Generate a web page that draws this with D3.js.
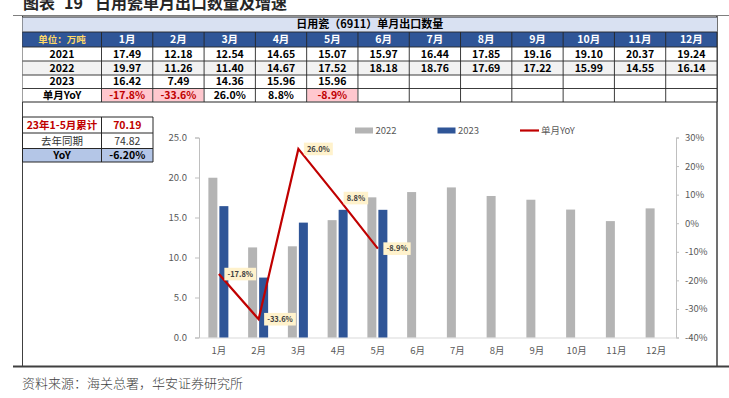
<!DOCTYPE html>
<html><head><meta charset="utf-8">
<script src="https://cdn.jsdelivr.net/npm/d3@7"></script>
<style>
html,body{margin:0;padding:0;background:#fff;}
svg{display:block;font-family:"Noto Sans CJK SC","Noto Sans",sans-serif;}
</style></head>
<body><svg id="c" width="729" height="398"></svg>
<script>
// ---- data ----
const months = ["1月","2月","3月","4月","5月","6月","7月","8月","9月","10月","11月","12月"];
const years = ["2021","2022","2023"];
const v2021 = [17.49,12.18,12.54,14.65,15.07,15.97,16.44,17.85,19.16,19.10,20.37,19.24];
const v2022 = [19.97,11.26,11.40,14.67,17.52,18.18,18.76,17.69,17.22,15.99,14.55,16.14];
const v2023 = [16.42,7.49,14.36,15.96,15.96];
const yoy = [-17.8,-33.6,26.0,8.8,-8.9];
const leftTicks = [0,5,10,15,20,25];
const rightTicks = [-40,-30,-20,-10,0,10,20,30];
const summaryLabels = ["23年1-5月累计","去年同期","YoY"];
const summaryValues = ["70.19","74.82","-6.20%"];
const titleParts = ["图表","19","日用瓷单月出口数量及增速"];
const tableTitle = "日用瓷（6911）单月出口数量";
const unitLabel = "单位：万吨";
const yoyLabel = "单月YoY";
const sourceText = "资料来源：海关总署，华安证券研究所";

const svg = d3.select("#c");

// ---- title & frame ----
const tt = svg.append("text").attr("x",23).attr("y",9).attr("font-size",16).attr("font-weight",700)
  .attr("fill","#262626");
tt.append("tspan").text(titleParts[0]);
tt.append("tspan").attr("dx",9).text(titleParts[1]);
tt.append("tspan").attr("dx",12).text(titleParts[2]);
svg.append("line").attr("x1",13).attr("x2",729).attr("y1",15.5).attr("y2",15.5)
  .attr("stroke","#7f7f7f").attr("stroke-width",1.2);
svg.append("line").attr("x1",22.5).attr("x2",22.5).attr("y1",16).attr("y2",367).attr("stroke","#404040").attr("stroke-width",1);
svg.append("line").attr("x1",717).attr("x2",717).attr("y1",16).attr("y2",367).attr("stroke","#404040").attr("stroke-width",1.5);
svg.append("line").attr("x1",13).attr("x2",729).attr("y1",366.5).attr("y2",366.5).attr("stroke","#404040").attr("stroke-width",2);
svg.append("text").attr("x",22).attr("y",388).attr("font-size",13).attr("fill","#404040")
  .attr("font-weight",300).text(sourceText);

// ---- main table ----
const tx0 = 22.5, tx1 = 101.5, tx2 = 717;
const colX = d3.scaleBand().domain(months).range([tx1, tx2]);
const rowY = [17, 32, 47, 61, 75, 88.5, 102];
const tbl = svg.append("g");
tbl.append("rect").attr("x",tx0).attr("y",rowY[0]).attr("width",tx2-tx0).attr("height",rowY[1]-rowY[0]).attr("fill","#D9E1F2");
tbl.append("text").attr("x",(tx0+tx2)/2).attr("y",(rowY[0]+rowY[1])/2+3.8).attr("text-anchor","middle")
  .attr("font-size",11).attr("font-weight",700).attr("fill","#000").text(tableTitle);
tbl.append("rect").attr("x",tx0).attr("y",rowY[1]).attr("width",tx2-tx0).attr("height",rowY[2]-rowY[1]).attr("fill","#2F5597");
tbl.append("text").attr("x",(tx0+tx1)/2).attr("y",(rowY[1]+rowY[2])/2+3.5).attr("text-anchor","middle")
  .attr("font-size",9.5).attr("font-weight",700).attr("fill","#FFD966").text(unitLabel);
tbl.selectAll(".mh").data(months).join("text")
  .attr("x",d=>colX(d)+colX.bandwidth()/2).attr("y",(rowY[1]+rowY[2])/2+3.6).attr("text-anchor","middle")
  .attr("font-size",10.5).attr("font-weight",700).attr("fill","#fff").text(d=>d);
const rows = [
  {label:"2021", vals:v2021.map(v=>v.toFixed(2)), bg:"#fff"},
  {label:"2022", vals:v2022.map(v=>v.toFixed(2)), bg:"#F2F2F2"},
  {label:"2023", vals:v2023.map(v=>v.toFixed(2)), bg:"#fff"},
  {label:yoyLabel, vals:yoy.map(v=>v.toFixed(1)+"%"), bg:"#fff", yoy:true}
];
rows.forEach((r,i)=>{
  const y0 = rowY[i+2], y1 = rowY[i+3], cy=(y0+y1)/2+3.6;
  tbl.append("rect").attr("x",tx0).attr("y",y0).attr("width",tx2-tx0).attr("height",y1-y0).attr("fill",r.bg);
  tbl.append("text").attr("x",(tx0+tx1)/2).attr("y",cy).attr("text-anchor","middle")
    .attr("font-size",10.5).attr("font-weight",700).attr("fill","#000").text(r.label);
  r.vals.forEach((v,j)=>{
    const neg = r.yoy && yoy[j] < 0;
    if(neg) tbl.append("rect").attr("x",colX(months[j])+0.5).attr("y",y0+0.5).attr("width",colX.bandwidth()-1).attr("height",y1-y0-1).attr("fill","#FFC7CE");
    tbl.append("text").attr("x",colX(months[j])+colX.bandwidth()/2).attr("y",cy).attr("text-anchor","middle")
      .attr("font-size",10.5).attr("font-weight",700).attr("fill",neg?"#C00000":"#000").text(v);
  });
});
const gridColor="#262626";
rowY.forEach((y,i)=>{
  tbl.append("line").attr("x1",tx0).attr("x2",tx2).attr("y1",y).attr("y2",y).attr("stroke",gridColor).attr("stroke-width",i==0||i==6?1.2:0.9);
});
[tx1].concat(months.map(m=>colX(m)+colX.bandwidth())).forEach(x=>{
  tbl.append("line").attr("x1",x).attr("x2",x).attr("y1",rowY[1]).attr("y2",rowY[6]).attr("stroke",gridColor).attr("stroke-width",0.9);
});

// ---- summary table ----
const sx = [22.5, 101.5, 153], sy = [117, 133, 148.5, 162];
const sum = svg.append("g");
sum.append("rect").attr("x",sx[0]).attr("y",sy[2]).attr("width",sx[2]-sx[0]).attr("height",sy[3]-sy[2]).attr("fill","#B4C6E7");
summaryLabels.forEach((l,i)=>{
  const cy=(sy[i]+sy[i+1])/2+3.8;
  const col = i==0?"#C00000":"#000";
  const fw = i==1?400:700;
  sum.append("text").attr("x",(sx[0]+sx[1])/2).attr("y",cy).attr("text-anchor","middle").attr("font-size",10.5).attr("font-weight",fw).attr("fill",i==1?"#333":col).text(l);
  sum.append("text").attr("x",(sx[1]+sx[2])/2).attr("y",cy).attr("text-anchor","middle").attr("font-size",10.5).attr("font-weight",fw).attr("fill",i==1?"#333":col).text(summaryValues[i]);
});
sy.forEach(y=>sum.append("line").attr("x1",sx[0]).attr("x2",sx[2]).attr("y1",y).attr("y2",y).attr("stroke",gridColor).attr("stroke-width",1));
sx.forEach(x=>sum.append("line").attr("x1",x).attr("x2",x).attr("y1",sy[0]).attr("y2",sy[3]).attr("stroke",gridColor).attr("stroke-width",1));

// ---- chart ----
const cx0 = 199, cx1 = 676, cyTop = 137.5, cyBot = 337.5;
const x = d3.scaleBand().domain(months).range([cx0, cx1]);
const yL = d3.scaleLinear().domain([0,25]).range([cyBot, cyTop]);
const yR = d3.scaleLinear().domain([-40,30]).range([cyBot, cyTop]);
const ch = svg.append("g").attr("font-size",9.5).attr("fill","#595959");
const axisCol = "#BFBFBF";

const gl = ch.append("g").attr("transform",`translate(${cx0},0)`)
  .call(d3.axisLeft(yL).tickValues(leftTicks).tickFormat(d3.format(".1f")).tickSize(4).tickPadding(8));
gl.select(".domain").attr("stroke",axisCol);
gl.selectAll(".tick line").attr("stroke",axisCol);
gl.selectAll("text").attr("fill","#595959").attr("font-size",9.5).attr("font-family","'Noto Sans CJK SC',sans-serif");
const gr = ch.append("g").attr("transform",`translate(${cx1},0)`)
  .call(d3.axisRight(yR).tickValues(rightTicks).tickFormat(d=>d+"%").tickSize(3).tickPadding(6));
gr.select(".domain").attr("stroke",axisCol);
gr.selectAll(".tick line").attr("stroke",axisCol);
gr.selectAll("text").attr("fill","#595959").attr("font-size",9.5).attr("font-family","'Noto Sans CJK SC',sans-serif");
const gx = ch.append("g").attr("transform",`translate(0,${cyBot})`)
  .call(d3.axisBottom(x).tickSize(0).tickPadding(10));
gx.select(".domain").attr("stroke","#D9D9D9");
gx.selectAll("text").attr("fill","#595959").attr("font-size",9.5).attr("font-family","'Noto Sans CJK SC',sans-serif");

const bw = 9;
ch.selectAll(".b22").data(v2022).join("rect")
  .attr("x",(d,i)=>x(months[i])+x.bandwidth()/2-10.5).attr("width",bw)
  .attr("y",d=>yL(d)).attr("height",d=>yL(0)-yL(d)).attr("fill","#B4B4B4");
ch.selectAll(".b23").data(v2023).join("rect")
  .attr("x",(d,i)=>x(months[i])+x.bandwidth()/2+0.5).attr("width",bw)
  .attr("y",d=>yL(d)).attr("height",d=>yL(0)-yL(d)).attr("fill","#2F5597");

const line = d3.line().x((d,i)=>x(months[i])+x.bandwidth()/2).y(d=>yR(d));
ch.append("path").datum(yoy).attr("d",line).attr("fill","none").attr("stroke","#C00000").attr("stroke-width",2.2);

yoy.forEach((d,i)=>{
  const px = x(months[i])+x.bandwidth()/2 + 5.5, py = yR(d);
  const g = ch.append("g");
  const t = g.append("text").attr("x",px+3).attr("y",py+2.7).attr("font-size",7.5).attr("font-weight",700)
    .attr("fill","#404040").text(d.toFixed(1)+"%");
  const w = t.node().getComputedTextLength();
  g.insert("rect","text").attr("x",px).attr("y",py-6.3).attr("width",w+6).attr("height",12.6).attr("fill","#FFF2CC");
});

const lg = ch.append("g").attr("font-size",9.5).attr("fill","#595959");
lg.append("rect").attr("x",355).attr("y",127.5).attr("width",18).attr("height",6).attr("fill","#B4B4B4");
lg.append("text").attr("x",375.5).attr("y",134).text("2022");
lg.append("rect").attr("x",437.5).attr("y",127.5).attr("width",18).attr("height",6).attr("fill","#2F5597");
lg.append("text").attr("x",458).attr("y",134).text("2023");
lg.append("line").attr("x1",520).attr("x2",539).attr("y1",130.5).attr("y2",130.5).attr("stroke","#C00000").attr("stroke-width",2.2);
lg.append("text").attr("x",541).attr("y",134).text(yoyLabel);
</script></body></html>
